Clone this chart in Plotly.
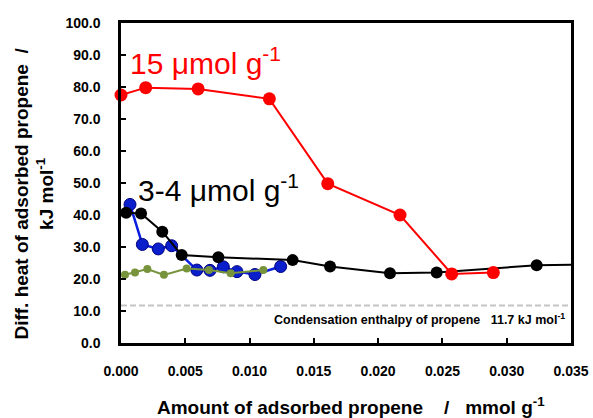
import plotly.graph_objects as go

# Data (mmol/g, kJ/mol)
red_x = [0.0000, 0.00192, 0.0060, 0.01154, 0.01608, 0.0217, 0.02572, 0.02896]
red_y = [77.5, 79.8, 79.4, 76.3, 49.8, 40.0, 21.6, 22.0]

black_x = [0.0004, 0.00156, 0.00321, 0.00472, 0.00757, 0.01335, 0.01626, 0.02092, 0.02455, 0.03233, 0.0370]
black_y = [40.7, 40.5, 34.8, 27.5, 26.8, 25.9, 23.9, 21.8, 22.0, 24.3, 24.5]

blue_x = [0.0007, 0.00166, 0.0029, 0.00394, 0.0059, 0.00692, 0.00796, 0.00902, 0.01042, 0.01242]
blue_y = [43.3, 30.8, 29.4, 30.4, 22.8, 22.7, 23.8, 22.3, 21.4, 23.9]

green_x = [0.00031, 0.00109, 0.00205, 0.00334, 0.00511, 0.00684, 0.00853, 0.01107]
green_y = [21.3, 22.0, 23.1, 21.3, 23.3, 22.8, 21.8, 22.8]

cond_enthalpy = 11.7

x_ticks = [0.000, 0.005, 0.010, 0.015, 0.020, 0.025, 0.030, 0.035]
y_ticks = [0, 10, 20, 30, 40, 50, 60, 70, 80, 90, 100]

FONT = "Liberation Sans, Arial, sans-serif"

fig = go.Figure()

# condensation enthalpy dashed line
fig.add_trace(go.Scatter(
    x=[0, 0.035], y=[cond_enthalpy, cond_enthalpy], mode="lines",
    line=dict(color="#C4C4C4", width=2, dash="6px,3px"), showlegend=False,
    hoverinfo="skip"))

fig.add_trace(go.Scatter(
    x=blue_x, y=blue_y, mode="lines+markers",
    line=dict(color="#0A1EE0", width=2.5),
    marker=dict(size=12, color="#0A1ECC", line=dict(color="#000080", width=1)),
    showlegend=False))

fig.add_trace(go.Scatter(
    x=black_x, y=black_y, mode="lines+markers",
    line=dict(color="black", width=2),
    marker=dict(size=12, color="black"),
    showlegend=False))

fig.add_trace(go.Scatter(
    x=green_x, y=green_y, mode="lines+markers",
    line=dict(color="#77933C", width=2),
    marker=dict(size=8, color="#77933C"),
    showlegend=False))

fig.add_trace(go.Scatter(
    x=red_x, y=red_y, mode="lines+markers",
    line=dict(color="#FF0000", width=2),
    marker=dict(size=13, color="#FF0000"),
    showlegend=False, cliponaxis=False))

fig.add_annotation(x=0.00057, y=88.2, xref="x", yref="y",
                   text="15 \u03bcmol g<sup>-1</sup>", showarrow=False,
                   xanchor="left", yanchor="middle",
                   font=dict(family=FONT, size=30, color="#FF0000"))
fig.add_annotation(x=0.0012, y=48.4, xref="x", yref="y",
                   text="3-4 \u03bcmol g<sup>-1</sup>", showarrow=False,
                   xanchor="left", yanchor="middle",
                   font=dict(family=FONT, size=30, color="black"))
fig.add_annotation(x=0.0347, y=7.4, xref="x", yref="y",
                   text="<b>Condensation enthalpy of propene   11.7 kJ mol<sup>-1</sup></b>",
                   showarrow=False, xanchor="right", yanchor="middle",
                   font=dict(family=FONT, size=12.5, color="black"))

# axis titles as annotations for precise placement
fig.add_annotation(x=0.512, y=-0.198, xref="paper", yref="paper",
                   text="<b>Amount of adsorbed propene    /   mmol g<sup>-1</sup></b>",
                   showarrow=False, xanchor="center", yanchor="middle",
                   font=dict(family=FONT, size=19, color="black"))
fig.add_annotation(x=-0.194, y=0.466, xref="paper", yref="paper",
                   text="<b>Diff. heat of adsorbed propene  /<br>kJ mol<sup>-1</sup></b>",
                   showarrow=False, xanchor="center", yanchor="middle", textangle=-90,
                   font=dict(family=FONT, size=19, color="black"))

fig.update_xaxes(
    range=[0, 0.035], tickvals=x_ticks, tickformat=".3f",
    ticks="inside", ticklen=5, tickwidth=2, tickcolor="black",
    showline=True, linecolor="black", linewidth=2.5, mirror=True,
    showgrid=False, zeroline=False, ticklabelstandoff=13, automargin=False,
    tickfont=dict(family=FONT, size=14, color="black", weight="bold"))
fig.update_yaxes(
    range=[0, 100], tickvals=y_ticks, tickformat=".1f",
    ticks="inside", ticklen=5, tickwidth=2, tickcolor="black",
    showline=True, linecolor="black", linewidth=2.5, mirror=True,
    showgrid=False, zeroline=False, ticklabelstandoff=15, automargin=False,
    tickfont=dict(family=FONT, size=14, color="black", weight="bold"))

fig.update_layout(
    width=593, height=418,
    margin=dict(l=121, r=22, t=23, b=75),
    paper_bgcolor="white", plot_bgcolor="white",
    font=dict(family=FONT))

fig.write_html("out.html", config={"displayModeBar": False},
               post_script="document.body.style.margin='0px';")
